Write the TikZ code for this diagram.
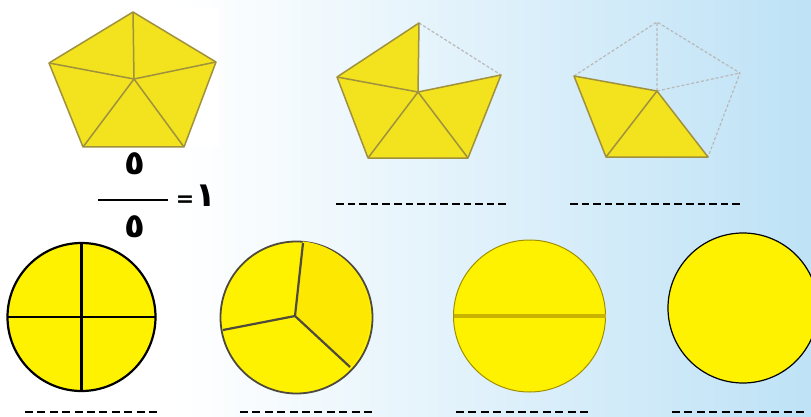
\documentclass[tikz,border=0pt]{standalone}
\usepackage{fontspec}
\newfontfamily\arabicfont[Script=Arabic]{DejaVu Sans}
\newfontfamily\dejavu{DejaVu Sans}
\definecolor{bgblue}{RGB}{190,226,246}
\definecolor{pyellow}{RGB}{243,226,30}
\definecolor{pedge}{RGB}{160,145,60}
\definecolor{cyellow}{RGB}{255,242,0}
\definecolor{cyellowB}{RGB}{252,232,0}
\definecolor{band}{RGB}{200,180,0}
\definecolor{ghost}{RGB}{185,185,185}
\tikzset{
  pfill/.style={fill=pyellow,draw=pedge,line width=1.5pt,line join=round},
  pline/.style={pedge,line width=1.5pt},
  ghostline/.style={draw=ghost,line width=1.2pt,densely dashed},
  blank/.style={line width=2.6pt,dash pattern=on 7.5pt off 4.1pt},
  blankB/.style={line width=2.6pt,dash pattern=on 8pt off 4.4pt},
  digit/.style={font=\arabicfont\bfseries\fontsize{34}{34}\selectfont,inner sep=0pt},
  eqsign/.style={font=\dejavu\bfseries\fontsize{22}{22}\selectfont,inner sep=0pt},
}
\begin{document}
\begin{tikzpicture}[x=1pt,y=-1pt]
\useasboundingbox (0,0) rectangle (811,417);
\fill[white] (0,0) rectangle (811,417);
\shade[left color=white,right color=bgblue] (180,0) rectangle (811,417);
\fill[white] (48,8) rectangle (219,147);
% pentagon 1
\coordinate (a1) at (133,12); \coordinate (b1) at (216,62); \coordinate (c1) at (184,147);
\coordinate (d1) at (83,147); \coordinate (e1) at (49,63); \coordinate (o1) at (134,79);
\path[pfill] (a1)--(b1)--(c1)--(d1)--(e1)--cycle;
\draw[pline] (o1)--(a1) (o1)--(b1) (o1)--(c1) (o1)--(d1) (o1)--(e1);
% pentagon 2
\coordinate (a2) at (419,23); \coordinate (b2) at (501,75); \coordinate (c2) at (468,158);
\coordinate (d2) at (368,158); \coordinate (e2) at (337,77); \coordinate (o2) at (418,92);
\path[ghostline] (a2)--(b2);
\path[pfill] (o2)--(a2)--(e2)--(d2)--(c2)--(b2)--cycle;
\draw[pline] (o2)--(e2) (o2)--(d2) (o2)--(c2);
% pentagon 3
\coordinate (a3) at (657,22); \coordinate (b3) at (740,73); \coordinate (c3) at (708,157);
\coordinate (d3) at (606,157); \coordinate (e3) at (574,76); \coordinate (o3) at (657,91);
\path[ghostline] (e3)--(a3)--(b3)--(c3) (o3)--(a3) (o3)--(b3);
\path[pfill] (o3)--(e3)--(d3)--(c3)--cycle;
\draw[pline] (o3)--(d3);
% fraction
\node[digit] (num) at (135,164) {٥};
\coordinate (fl) at (98,200); \coordinate (fr) at (168,200);
\draw[line width=2.8pt] (fl)--(fr);
\node[digit] (den) at (135,227) {٥};
\node[eqsign] (eq) at (185,201) {=};
\node[digit] (one) at (206,196) {١};
% blanks top
\coordinate (t2l) at (336,204); \coordinate (t2r) at (506,204);
\coordinate (t3l) at (570,204); \coordinate (t3r) at (740,204);
\draw[blank] (t2l)--(t2r);
\draw[blank] (t3l)--(t3r);
% circle 1
\coordinate (k1) at (81.5,317);
\draw[fill=cyellow,line width=2.2pt] (k1) circle[radius=74];
\draw[line width=2.2pt] ([xshift=-74pt]k1)--([xshift=74pt]k1) ([yshift=74pt]k1)--([yshift=-74pt]k1);
% circle 2
\coordinate (k2) at (296.5,317.5);
\draw[fill=cyellow,draw=black!80!yellow,line width=1.8pt] (k2) circle[radius=76];
\fill[cyellowB] (295,316) -- ++(-84:75) arc[start angle=-84,end angle=43,radius=75] -- cycle;
\coordinate (m2) at (295,316);
\draw[black!80!yellow,line width=2.2pt] (m2)--(303,243) (m2)--(223,330) (m2)--(350,367);
% circle 3
\coordinate (k3) at (529.5,316);
\draw[fill=cyellow,draw=band!80!black,line width=1pt] (k3) circle[radius=76];
\draw[band,line width=4.5pt] ([xshift=-76pt]k3)--([xshift=76pt]k3);
% circle 4
\coordinate (k4) at (743,308);
\draw[fill=cyellow,line width=1.2pt] (k4) circle[radius=75];
% blanks bottom
\coordinate (u1l) at (25,412); \coordinate (u1r) at (157,412);
\coordinate (u2l) at (240,412); \coordinate (u2r) at (372,412);
\coordinate (u3l) at (456,412); \coordinate (u3r) at (588,412);
\coordinate (u4l) at (672,412); \coordinate (u4r) at (804,412);
\draw[blankB] (u1l)--(u1r);
\draw[blankB] (u2l)--(u2r);
\draw[blankB] (u3l)--(u3r);
\draw[blankB] (u4l)--(u4r);
\end{tikzpicture}
\end{document}
